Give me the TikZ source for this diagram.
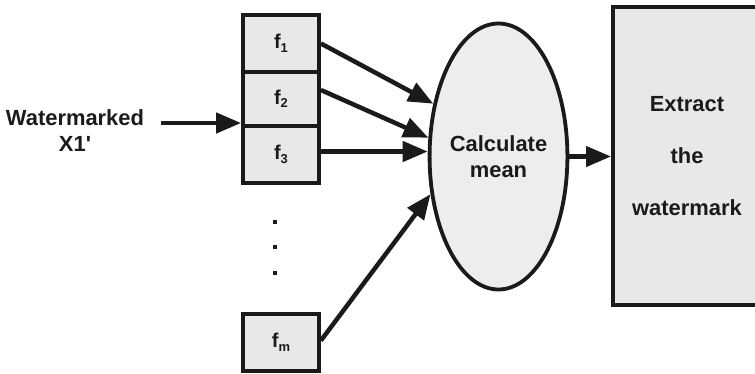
\documentclass[tikz,border=0pt]{standalone}
\usepackage{fontspec}
\setmainfont{Liberation Sans}
\usetikzlibrary{shapes.geometric,arrows.meta}
\definecolor{ink}{HTML}{1A1A1A}
\definecolor{boxfill}{HTML}{E8E8E8}
\definecolor{ovalfill}{HTML}{ECEDED}
\newcommand{\sub}[1]{\raisebox{-3.5bp}{\fontsize{13}{13}\selectfont #1}}
\tikzset{
  lbl/.style={font=\bfseries\fontsize{22}{26}\selectfont, text=ink},
  featbox/.style={draw=ink, fill=boxfill, line width=3.8bp, minimum width=76bp,
    inner sep=0pt, font=\bfseries\fontsize{20}{22}\selectfont, text=ink},
  flow/.style={draw=ink, line width=4.5bp, -{Triangle[length=25bp,width=20bp]}},
}
\begin{document}
\begin{tikzpicture}[x=1bp,y=-1bp]
\useasboundingbox (0,0) rectangle (755,373);
\clip (0,0) rectangle (755,373);

% feature blocks
\node[featbox, minimum height=57bp] (f1) at (281,43.5) {f\sub{1}};
\node[featbox, minimum height=54bp] (f2) at (281,99) {f\sub{2}};
\node[featbox, minimum height=57bp] (f3) at (281,154.5) {f\sub{3}};
\node[featbox, minimum height=57bp] (fm) at (281,342.5) {f\sub{m}};

% vertical ellipsis between f3 and fm
\foreach \y in {222,247,273}
  \fill[ink] (272.5,\y-2) rectangle (276.5,\y+2);

% averaging stage
\node[ellipse, draw=ink, fill=ovalfill, line width=3.8bp, minimum width=114bp,
  minimum height=266bp, inner sep=0pt, lbl, align=center] (mean) at (498.5,156.5)
  {Calculate\\mean};

% extraction stage (open past the right margin)
\node[draw=ink, fill=boxfill, line width=4bp, minimum width=148bp,
  minimum height=298bp, inner sep=0pt, lbl, align=center] (extract) at (687,156)
  {Extract\\[26bp]the\\[26bp]watermark};

% input
\node[lbl, align=center] (input) at (75,131) {Watermarked\\X1\textquotesingle};
\coordinate (src) at (161,123);

% connector end points
\coordinate (f2out) at ([yshift=9bp]f2.east);
\coordinate (f3out) at ([yshift=3bp]f3.east);
\coordinate (fmout) at ([yshift=2bp]fm.east);

% connectors
\draw[flow] (src) -- (src -| f2.west);
\draw[flow] (f1.east) -- (mean.141);
\draw[flow] (f2out) -- (mean.165);
\draw[flow] (f3out) -- (mean.west |- f3out);
\draw[flow] (fmout) -- (mean.209);
\draw[flow] (mean.east) -- (extract.west |- mean.east);
\end{tikzpicture}
\end{document}
